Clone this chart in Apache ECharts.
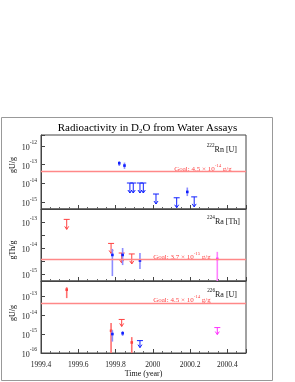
<!DOCTYPE html>
<html><head><meta charset="utf-8">
<script src="https://cdn.jsdelivr.net/npm/echarts@6/dist/echarts.min.js"></script>
<style>html,body{margin:0;padding:0;background:#fff}#c{width:295px;height:382px}</style>
</head><body><div id="c"></div>
<script>
// x ticks (years)
const xTickLabels = ['1999.4','1999.6','1999.8','2000','2000.2','2000.4'];
// Panel 1: 222Rn [U]  (g U / g)
const rnPtX  = [1999.820, 1999.848, 2000.185];
const rnPtY  = [1.20e-13, 9.0e-14, 3.5e-15];
const rnPtLo = [0.85e-13, 6.0e-14, 2.1e-15];
const rnPtHi = [1.55e-13, 1.3e-13, 6.0e-15];
const rnLimX = [1999.877, 1999.895, 1999.931, 1999.949, 2000.017, 2000.128, 2000.222];
const rnLimY = [1.05e-14, 1.05e-14, 1.05e-14, 1.05e-14, 2.7e-15, 1.7e-15, 1.9e-15];
const rnGoal = 4.5e-14;
// Panel 2: 224Ra [Th]  (g Th / g)
const raThRedLimX = [1999.538, 1999.776, 1999.833, 1999.887];
const raThRedLimY = [1.26e-13, 1.5e-14, 6.4e-15, 5.9e-15];
const raThBlueX  = [1999.783, 1999.838, 1999.931];
const raThBlueY  = [5.4e-15, 5.4e-15, 3.3e-15];
const raThBlueLo = [8.3e-16, 2.2e-15, 1.55e-15];
const raThBlueHi = [9.2e-15, 1.0e-14, 6.4e-15];
const raThMagX  = [2000.346];
const raThMagY  = [3.8e-15];
const raThMagLo = [1e-17];
const raThMagHi = [7.1e-15];
const raThGoal = 3.7e-15;
// Panel 3: 226Ra [U]  (g U / g)
const raURedX  = [1999.538, 1999.776, 1999.887];
const raURedY  = [2.2e-13, 1.48e-15, 3.6e-16];
const raURedLo = [7.9e-14, 1e-17, 1e-17];
const raURedHi = [2.96e-13, 3.8e-15, 6.9e-16];
const raURedLimX = [1999.833];
const raURedLimY = [5.9e-15];
const raUBlueX  = [1999.783, 1999.838];
const raUBlueY  = [1.0e-15, 1.1e-15];
const raUBlueLo = [4.0e-16, 8.0e-16];
const raUBlueHi = [1.6e-15, 1.45e-15];
const raUBlueLimX = [1999.931];
const raUBlueLimY = [4.5e-16];
const raUMagLimX = [2000.346];
const raUMagLimY = [2.2e-15];
const raUGoal = 4.5e-14;

const L = Math.log10;
const SERIF = '"Liberation Serif","DejaVu Serif",serif';
const BLUE = '#1020ff', BLUEBAR = '#8c8cff', RED = '#ff4040', REDBAR = '#ff7070', MAG = '#ff30ff', MAGBAR='#ff80ff', GOAL = '#ff8888';

function pts(xs, ys, lo, hi){ return xs.map((x,i)=>[x, L(ys[i]), L(lo[i]), L(hi[i])]); }
function lims(xs, ys){ return xs.map((x,i)=>[x, L(ys[i])]); }

function errSeries(g, data, dot, bar){
  return {type:'custom', xAxisIndex:g, yAxisIndex:g, clip:true, data,
    renderItem(params, api){
      const p = api.coord([api.value(0), api.value(1)]);
      const pl = api.coord([api.value(0), api.value(2)]);
      const ph = api.coord([api.value(0), api.value(3)]);
      return {type:'group', children:[
        {type:'line', shape:{x1:p[0],y1:pl[1],x2:p[0],y2:ph[1]}, style:{stroke:bar,lineWidth:1.6}},
        {type:'rect', shape:{x:p[0]-1.3,y:p[1]-1.3,width:2.6,height:2.6}, style:{fill:dot}}
      ]};
    }};
}
function limSeries(g, data, color, len){
  return {type:'custom', xAxisIndex:g, yAxisIndex:g, clip:true, data,
    renderItem(params, api){
      const p = api.coord([api.value(0), api.value(1)]);
      const x = p[0], y = p[1];
      return {type:'group', children:[
        {type:'line', shape:{x1:x-3,y1:y,x2:x+3,y2:y}, style:{stroke:color,lineWidth:1}},
        {type:'line', shape:{x1:x,y1:y,x2:x,y2:y+len}, style:{stroke:color,lineWidth:1}},
        {type:'polyline', shape:{points:[[x-2,y+len-3],[x,y+len],[x+2,y+len-3]]}, style:{stroke:color,lineWidth:1,fill:'none'}}
      ]};
    }};
}
function goalSeries(g, v){
  return {type:'line', xAxisIndex:g, yAxisIndex:g, data:[], silent:true,
    markLine:{symbol:'none', silent:true, label:{show:false},
      lineStyle:{color:GOAL, width:1.3, type:'solid'}, data:[{yAxis:L(v)}]}};
}

const grids = [
  {left:41, width:205, top:135, height:74},
  {left:41, width:205, top:209, height:72},
  {left:41, width:205, top:281, height:72}
].map(g=>Object.assign(g,{show:true, borderColor:'#444', borderWidth:1, backgroundColor:'transparent'}));

const yRanges = [[-15.37,-11.41],[-15.27,-12.5],[-16,-12.2]];

function xAxis(g){
  return {type:'value', gridIndex:g, min:1999.4, max:2000.5, interval:0.2,
    axisLine:{show:true, lineStyle:{color:'#444'}},
    axisTick:{show:true, inside:true, length:4, lineStyle:{color:'#444'}},
    minorTick:{show:true, splitNumber:4, length:2, lineStyle:{color:'#666'}},
    splitLine:{show:false},
    axisLabel:{show:g===2, fontFamily:SERIF, fontSize:7.5, color:'#222', margin:8,
      formatter:v=>{const k=v*5; if(Math.abs(k-Math.round(k))>1e-6) return ''; const i=xTickLabels.findIndex(s=>Math.abs(parseFloat(s)-v)<1e-6); return i>=0?xTickLabels[i]:'';}}
  };
}
function yAxis(g){
  return {type:'value', gridIndex:g, min:yRanges[g][0], max:yRanges[g][1], splitNumber:4,
    axisLine:{show:true, lineStyle:{color:'#444'}},
    axisTick:{show:true, inside:true, length:4, lineStyle:{color:'#444'}},
    splitLine:{show:false},
    axisLabel:{fontFamily:SERIF, color:'#222', margin:4,
      formatter:v=>{const r=Math.round(v); if(Math.abs(v-r)>1e-6) return ''; return '{b|10}{s|'+r+'}';},
      rich:{b:{fontFamily:SERIF,fontSize:8,color:'#222',lineHeight:9,padding:[4,0,0,0]},
            s:{fontFamily:SERIF,fontSize:5.5,color:'#222',lineHeight:7,padding:[0,0,6,0]}}}
  };
}

function txt(text, x, y, size, color, align, rich, rot){
  return {type:'text', x, y, rotation:rot||0, silent:true,
    style:{text, fill:color, font:size+'px '+SERIF, align:align||'center', verticalAlign:'middle', rich:rich||{}}};
}
const supRich = (sz)=>({
  b:{fontFamily:SERIF,fontSize:sz,fill:'#111',color:'#111',padding:[3,0,0,0]},
  s:{fontFamily:SERIF,fontSize:sz*0.65,fill:'#111',color:'#111',padding:[0,0,5,0]}});
const goalRich = {
  b:{fontFamily:SERIF,fontSize:7,color:RED,padding:[3,0,0,0]},
  s:{fontFamily:SERIF,fontSize:4.8,color:RED,padding:[0,0,5,0]}};

const option = {
  animation:false,
  backgroundColor:'#fff',
  title:{text:'Radioactivity in D{sub|2}O from Water Assays', left:'center', top:117,
    textStyle:{fontFamily:SERIF, fontSize:11, fontWeight:'normal', color:'#000',
      rich:{sub:{fontFamily:SERIF,fontSize:7,color:'#000',padding:[6,0,0,0]}}}},
  grid:grids,
  xAxis:[xAxis(0),xAxis(1),xAxis(2)],
  yAxis:[yAxis(0),yAxis(1),yAxis(2)],
  series:[
    goalSeries(0, rnGoal), goalSeries(1, raThGoal), goalSeries(2, raUGoal),
    errSeries(0, pts(rnPtX,rnPtY,rnPtLo,rnPtHi), BLUE, BLUEBAR),
    limSeries(0, lims(rnLimX,rnLimY), BLUE, 10),
    limSeries(1, lims(raThRedLimX,raThRedLimY), RED, 10),
    errSeries(1, pts(raThBlueX,raThBlueY,raThBlueLo,raThBlueHi), BLUE, BLUEBAR),
    errSeries(1, pts(raThMagX,raThMagY,raThMagLo,raThMagHi), MAG, MAGBAR),
    errSeries(2, pts(raURedX,raURedY,raURedLo,raURedHi), RED, REDBAR),
    limSeries(2, lims(raURedLimX,raURedLimY), RED, 7),
    errSeries(2, pts(raUBlueX,raUBlueY,raUBlueLo,raUBlueHi), BLUE, BLUEBAR),
    limSeries(2, lims(raUBlueLimX,raUBlueLimY), BLUE, 7),
    limSeries(2, lims(raUMagLimX,raUMagLimY), MAG, 7)
  ],
  graphic:[
    {type:'rect', silent:true, shape:{x:1.5,y:117.5,width:271,height:263}, style:{fill:'none',stroke:'#999',lineWidth:1}},
    txt('{s|222}{b|Rn [U]}', 237, 148, 8, '#111', 'right', supRich(8)),
    txt('{s|224}{b|Ra [Th]}', 240, 220, 8, '#111', 'right', supRich(8)),
    txt('{s|226}{b|Ra [U]}', 237, 293, 8, '#111', 'right', supRich(8)),
    txt('{b|Goal: 4.5 × 10}{s|-14}{b| g/g}', 203, 168, 7, RED, 'center', goalRich),
    txt('{b|Goal: 3.7 × 10}{s|-15}{b| g/g}', 182, 256, 7, RED, 'center', goalRich),
    txt('{b|Goal: 4.5 × 10}{s|-14}{b| g/g}', 182, 299, 7, RED, 'center', goalRich),
    txt('gU/g', 13, 165, 8, '#111', 'center', null, Math.PI/2),
    txt('gTh/g', 13, 250, 8, '#111', 'center', null, Math.PI/2),
    txt('gU/g', 13, 313, 8, '#111', 'center', null, Math.PI/2),
    txt('Time (year)', 143.5, 374, 8, '#111', 'center')
  ]
};
echarts.init(document.getElementById('c'), null, {renderer:'canvas'}).setOption(option);
</script></body></html>
